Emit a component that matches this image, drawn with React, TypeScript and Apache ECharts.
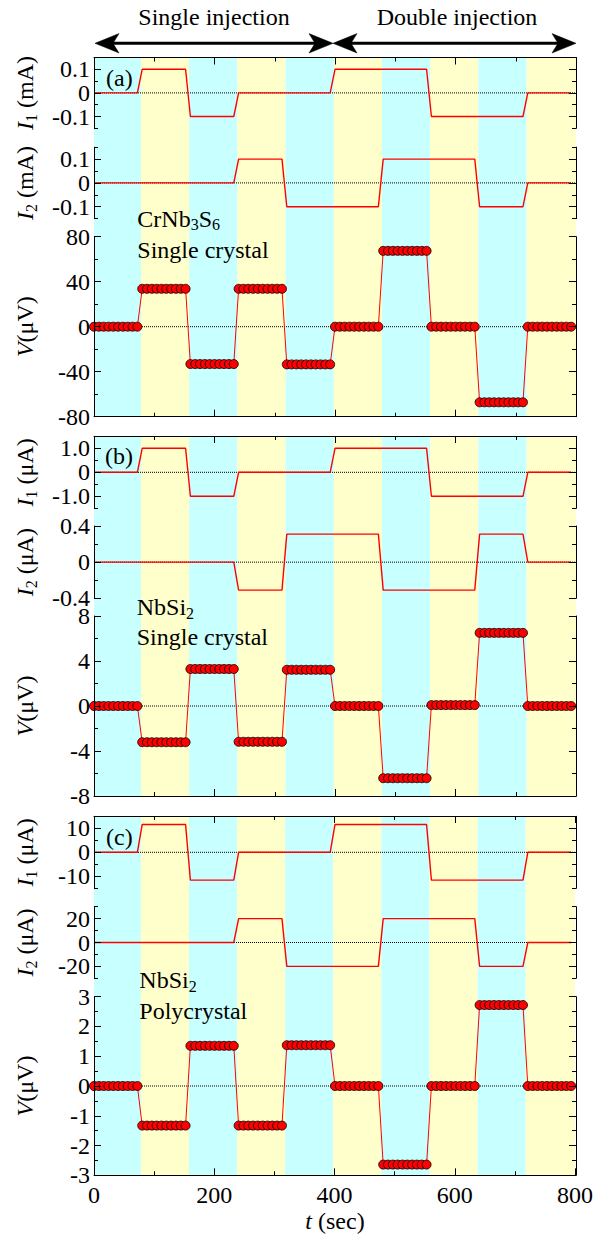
import React, { useEffect, useRef } from 'react';
import * as echarts from 'echarts';

// ---------- data ----------
const segmentStarts = [0, 80, 160, 240, 320, 400, 480, 560, 640, 720];
const sampleOffsets = [0, 8, 16, 24, 32, 40, 48, 56, 64, 72];
const bandEdges = [0, 78, 158, 238, 318, 398, 478, 558, 638, 718, 800];
const xTicks = [0, 200, 400, 600, 800];

// panel (a) CrNb3S6 single crystal
const aI1 = [0, 0.1, -0.1, 0, 0, 0.1, 0.1, -0.1, -0.1, 0];
const aI2 = [0, 0, 0, 0.1, -0.1, -0.1, 0.1, 0.1, -0.1, 0];
const aV = [0, 33.7, -33.2, 33.7, -33.5, 0, 67.4, 0, -67.2, 0];
// panel (b) NbSi2 single crystal
const bI1 = [0, 1.0, -1.0, 0, 0, 1.0, 1.0, -1.0, -1.0, 0];
const bI2 = [0, 0, 0, -0.31, 0.31, 0.31, -0.31, -0.31, 0.31, 0];
const bV = [0, -3.22, 3.29, -3.18, 3.22, 0, -6.42, 0.08, 6.5, 0];
// panel (c) NbSi2 polycrystal
const cI1 = [0, 11.6, -11.6, 0, 0, 11.6, 11.6, -11.6, -11.6, 0];
const cI2 = [0, 0, 0, 20, -20, -20, 20, 20, -20, 0];
const cV = [0, -1.33, 1.35, -1.33, 1.37, 0, -2.64, 0, 2.72, 0];

// tick values
const aIMajor = [-0.1, 0, 0.1];
const aIMinor = [-0.15, -0.05, 0.05, 0.15];
const aVMajor = [-80, -40, 0, 40, 80];
const aVMinor = [-60, -20, 20, 60];
const bI1Major = [-1, 0, 1];
const bI1Minor = [-1.5, -0.5, 0.5, 1.5];
const bI2Major = [-0.4, 0, 0.4];
const bI2Minor = [-0.2, 0.2];
const bVMajor = [-8, -4, 0, 4, 8];
const bVMinor = [-6, -2, 2, 6];
const cI1Major = [-10, 0, 10];
const cI1Minor = [-15, -5, 5, 15];
const cI2Major = [-20, 0, 20];
const cI2Minor = [-30, -10, 10, 30];
const cVMajor = [-3, -2, -1, 0, 1, 2, 3];
const cVMinor = [-2.5, -1.5, -0.5, 0.5, 1.5, 2.5];

// ---------- layout ----------
const FONT = 'Liberation Serif';
const L = 94;
const W = 482;
const CYAN = '#c8ffff';
const YELLOW = '#ffffcc';
const RED = '#ff0000';

type Sub = {
  top: number; bottom: number; min: number; max: number;
  major: number[]; minor: number[]; dec: number; values: number[];
  dots: boolean; name: string;
};
type Panel = { frameTop: number; frameBottom: number; subs: Sub[] };

const panels: Panel[] = [
  {
    frameTop: 57.5, frameBottom: 416.7,
    subs: [
      { top: 57.5, bottom: 128.3, min: -0.15, max: 0.15, major: aIMajor, minor: aIMinor, dec: 1, values: aI1, dots: false, name: '{i|I}{s|1}{n| (mA)}' },
      { top: 147.2, bottom: 218.6, min: -0.15, max: 0.15, major: aIMajor, minor: aIMinor, dec: 1, values: aI2, dots: false, name: '{i|I}{s|2}{n| (mA)}' },
      { top: 236.7, bottom: 416.7, min: -80, max: 80, major: aVMajor, minor: aVMinor, dec: 0, values: aV, dots: true, name: '{i|V}{n|(μV)}' },
    ],
  },
  {
    frameTop: 436, frameBottom: 796,
    subs: [
      { top: 436.3, bottom: 508.3, min: -1.5, max: 1.5, major: bI1Major, minor: bI1Minor, dec: 1, values: bI1, dots: false, name: '{i|I}{s|1}{n| (μA)}' },
      { top: 526, bottom: 598.3, min: -0.4, max: 0.4, major: bI2Major, minor: bI2Minor, dec: 1, values: bI2, dots: false, name: '{i|I}{s|2}{n| (μA)}' },
      { top: 616, bottom: 796, min: -8, max: 8, major: bVMajor, minor: bVMinor, dec: 0, values: bV, dots: true, name: '{i|V}{n|(μV)}' },
    ],
  },
  {
    frameTop: 816, frameBottom: 1175.3,
    subs: [
      { top: 816.3, bottom: 888.3, min: -15, max: 15, major: cI1Major, minor: cI1Minor, dec: 0, values: cI1, dots: false, name: '{i|I}{s|1}{n| (μA)}' },
      { top: 906.7, bottom: 978.3, min: -30, max: 30, major: cI2Major, minor: cI2Minor, dec: 0, values: cI2, dots: false, name: '{i|I}{s|2}{n| (μA)}' },
      { top: 996.7, bottom: 1175.3, min: -3, max: 3, major: cVMajor, minor: cVMinor, dec: 0, values: cV, dots: true, name: '{i|V}{n|(μV)}' },
    ],
  },
];

function expand(values: number[]): [number, number][] {
  const out: [number, number][] = [];
  segmentStarts.forEach((s, k) => {
    sampleOffsets.forEach((o) => out.push([s + o, values[k]]));
  });
  return out;
}

const bands = bandEdges.slice(0, -1).map((e, i) => [e, bandEdges[i + 1], i % 2]);

const richStyles = {
  n: { fontFamily: FONT, fontSize: 24, lineHeight: 28, fill: '#000', color: '#000' },
  i: { fontFamily: FONT, fontSize: 24, lineHeight: 28, fontStyle: 'italic', fill: '#000', color: '#000' },
  s: { fontFamily: FONT, fontSize: 16, lineHeight: 14, verticalAlign: 'bottom', fill: '#000', color: '#000' },
};

function fmt(v: number, dec: number) {
  if (Math.abs(v) < 1e-9) return '0';
  return v.toFixed(dec);
}

function buildOption() {
  const grids: any[] = [];
  const xAxes: any[] = [];
  const yAxes: any[] = [];
  const series: any[] = [];
  const graphics: any[] = [];

  panels.forEach((p, pi) => {
    const gi = grids.length;
    grids.push({ left: L, width: W, top: p.frameTop, height: p.frameBottom - p.frameTop });
    const xb = xAxes.length;
    ['bottom', 'top'].forEach((pos) => {
      xAxes.push({
        gridIndex: gi, type: 'value', position: pos, min: 0, max: 800, interval: 200,
        axisLine: { show: true, onZero: false, lineStyle: { color: '#000', width: 1 } },
        axisTick: { show: true, inside: true, length: 7, lineStyle: { color: '#000', width: 1 } },
        minorTick: { show: true, splitNumber: 2, length: 4, lineStyle: { color: '#000', width: 1 } },
        axisLabel: {
          show: pi === 2 && pos === 'bottom', customValues: xTicks,
          fontFamily: FONT, fontSize: 24, color: '#000', margin: 8,
        },
        splitLine: { show: false }, minorSplitLine: { show: false }, z: 10,
      });
    });
    const yf = yAxes.length;
    yAxes.push({ gridIndex: gi, type: 'value', min: 0, max: 1, show: false });
    series.push({
      type: 'custom', xAxisIndex: xb, yAxisIndex: yf, data: bands, silent: true, z: 1,
      renderItem: (_params: any, api: any) => {
        const p0 = api.coord([api.value(0), 1]);
        const p1 = api.coord([api.value(1), 0]);
        return {
          type: 'rect',
          shape: { x: p0[0], y: p0[1], width: p1[0] - p0[0], height: p1[1] - p0[1] },
          style: { fill: api.value(2) === 0 ? CYAN : YELLOW },
        };
      },
    });

    p.subs.forEach((s) => {
      const g = grids.length;
      grids.push({ left: L, width: W, top: s.top, height: s.bottom - s.top });
      const xi = xAxes.length;
      xAxes.push({ gridIndex: g, type: 'value', min: 0, max: 800, show: false });
      const yi = yAxes.length;
      const evenLabels = s.major.filter((_, k) => k % 2 === 0);
      const oddLabels = s.major.filter((_, k) => k % 2 === 1);
      ['left', 'right'].forEach((pos) => {
        yAxes.push({
          gridIndex: g, type: 'value', position: pos, offset: 0, min: s.min, max: s.max,
          axisLine: { show: true, onZero: false, lineStyle: { color: '#000', width: 1 } },
          axisTick: { show: true, inside: true, length: 7, customValues: s.major, lineStyle: { color: '#000', width: 1 } },
          axisLabel: {
            show: pos === 'left', customValues: evenLabels, formatter: (v: number) => fmt(v, s.dec),
            fontFamily: FONT, fontSize: 24, color: '#000', margin: 4,
          },
          splitLine: { show: false }, z: 10,
        });
        yAxes.push({
          gridIndex: g, type: 'value', position: pos, offset: 0, min: s.min, max: s.max,
          axisLine: { show: false, onZero: false },
          axisTick: { show: true, inside: true, length: 4, customValues: s.minor, lineStyle: { color: '#000', width: 1 } },
          axisLabel: {
            show: pos === 'left', customValues: oddLabels, formatter: (v: number) => fmt(v, s.dec),
            fontFamily: FONT, fontSize: 24, color: '#000', margin: 4,
          },
          splitLine: { show: false }, z: 10,
        });
      });
      series.push({
        type: 'line', xAxisIndex: xi, yAxisIndex: yi, data: [[0, 0], [800, 0]],
        symbol: 'none', silent: true, z: 3,
        lineStyle: { color: '#000', width: 1, type: [1, 1] },
      });
      if (s.dots) {
        series.push({
          type: 'line', xAxisIndex: xi, yAxisIndex: yi, data: expand(s.values),
          symbol: 'circle', symbolSize: 9, showSymbol: true, showAllSymbol: true, silent: true, z: 5,
          lineStyle: { color: RED, width: 1 },
          itemStyle: { color: RED, borderColor: '#000', borderWidth: 0.8 },
        });
      } else {
        series.push({
          type: 'line', xAxisIndex: xi, yAxisIndex: yi, data: expand(s.values),
          symbol: 'none', silent: true, z: 4,
          lineStyle: { color: RED, width: 1.4 },
        });
      }
      graphics.push({
        type: 'text', x: 25, y: (s.top + s.bottom) / 2, rotation: Math.PI / 2, silent: true, z: 100,
        style: { text: s.name, rich: richStyles, align: 'center', verticalAlign: 'middle', fill: '#000', fontFamily: FONT, fontSize: 24 },
      });
    });
  });

  const txt = (text: string, x: number, y: number, align = 'left') => ({
    type: 'text', x, y, silent: true, z: 100,
    style: { text, rich: richStyles, align, verticalAlign: 'middle', fill: '#000', fontFamily: FONT, fontSize: 24 },
  });

  // top annotations
  graphics.push(txt('{n|Single injection}', 214, 16.5, 'center'));
  graphics.push(txt('{n|Double injection}', 457, 16.5, 'center'));
  const ay = 43.3;
  graphics.push({ type: 'line', z: 100, shape: { x1: 105, y1: ay, x2: 322, y2: ay }, style: { stroke: '#000', lineWidth: 3 } });
  graphics.push({ type: 'line', z: 100, shape: { x1: 344, y1: ay, x2: 565, y2: ay }, style: { stroke: '#000', lineWidth: 3 } });
  const head = (tx: number, dir: number) => ({
    type: 'polygon', z: 100,
    shape: { points: [[tx, ay], [tx - dir * 24, ay - 9.7], [tx - dir * 18, ay], [tx - dir * 24, ay + 9.7]] },
    style: { fill: '#000', stroke: '#000', lineWidth: 0.5 },
  });
  graphics.push(head(95, -1));
  graphics.push(head(333, 1));
  graphics.push(head(333, -1));
  graphics.push(head(576, 1));

  // panel labels
  graphics.push(txt('{n|(a)}', 106, 78));
  graphics.push(txt('{n|(b)}', 105, 456.2));
  graphics.push(txt('{n|(c)}', 106, 837.2));
  graphics.push(txt('{n|CrNb}{s|3}{n|S}{s|6}', 137.3, 218.6));
  graphics.push(txt('{n|Single crystal}', 137.3, 249.6));
  graphics.push(txt('{n|NbSi}{s|2}', 136.7, 607.4));
  graphics.push(txt('{n|Single crystal}', 136.7, 636.5));
  graphics.push(txt('{n|NbSi}{s|2}', 139.3, 980.2));
  graphics.push(txt('{n|Polycrystal}', 139.3, 1011.2));
  graphics.push(txt('{i|t}{n| (sec)}', 335, 1221, 'center'));

  return {
    animation: false,
    backgroundColor: '#fff',
    textStyle: { fontFamily: FONT },
    grid: grids,
    xAxis: xAxes,
    yAxis: yAxes,
    series,
    graphic: graphics,
  };
}

export default function App() {
  const ref = useRef<HTMLDivElement>(null);
  useEffect(() => {
    if (!ref.current) return;
    const chart = echarts.init(ref.current, null, { renderer: 'svg' });
    chart.setOption(buildOption() as any);
    return () => chart.dispose();
  }, []);
  return <div ref={ref} style={{ width: 596, height: 1239, position: 'absolute', left: 0, top: 0 }} />;
}
